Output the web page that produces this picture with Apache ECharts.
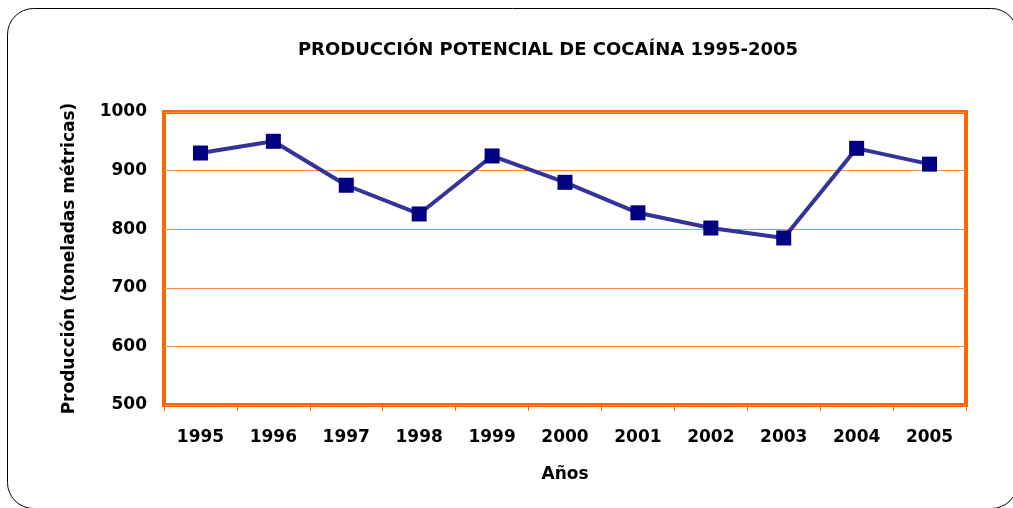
<!DOCTYPE html>
<html><head><meta charset="utf-8">
<script src="https://cdn.jsdelivr.net/npm/echarts@6/dist/echarts.min.js"></script>
<style>html,body{margin:0;padding:0;background:#fff}#c{width:1013px;height:508px}</style>
</head><body><div id="c"></div>
<script>
const years = ['1995','1996','1997','1998','1999','2000','2001','2002','2003','2004','2005'];
const production = [930, 950, 875, 826, 925, 880, 828, 802, 785, 938, 911];
const yTicks = {min: 500, max: 1000, interval: 100};

const chart = echarts.init(document.getElementById('c'));
const F = '"DejaVu Sans", Arial, sans-serif';
chart.setOption({
  animation: false,
  backgroundColor: '#fff',
  graphic: [{
    type: 'rect', silent: true, z: -1,
    shape: {x: 7.5, y: 8.5, width: 1010, height: 500, r: 26},
    style: {fill: 'none', stroke: '#000', lineWidth: 1}
  }],
  title: {
    text: 'PRODUCCIÓN POTENCIAL DE COCAÍNA 1995-2005',
    left: 543, top: 36, textAlign: 'center',
    textStyle: {fontFamily: F, fontSize: 18, fontWeight: 'bold', color: '#000'}
  },
  grid: {left: 164, top: 112, right: 47, bottom: 103, show: true,
    borderColor: '#FF6600', borderWidth: 4, backgroundColor: 'transparent'},
  xAxis: {
    type: 'category', data: years, boundaryGap: true,
    name: 'Años', nameLocation: 'middle', nameGap: 61,
    nameTextStyle: {fontFamily: F, fontSize: 17, fontWeight: 'bold', color: '#000'},
    axisLine: {show: false},
    axisTick: {show: true, length: 6, lineStyle: {color: '#FF6600', width: 1}},
    axisLabel: {fontFamily: F, fontSize: 17, fontWeight: 'bold', color: '#000', margin: 24}
  },
  yAxis: {
    type: 'value', min: yTicks.min, max: yTicks.max, interval: yTicks.interval,
    name: 'Producción (toneladas métricas)', nameLocation: 'middle', nameGap: 86,
    nameTextStyle: {fontFamily: F, fontSize: 17, fontWeight: 'bold', color: '#000'},
    axisLine: {show: false}, axisTick: {show: false},
    splitLine: {show: true, lineStyle: {color: '#FF8C3A', width: 1}},
    axisLabel: {fontFamily: F, fontSize: 17, fontWeight: 'bold', color: '#000', margin: 17,
      formatter: v => String(v)}
  },
  series: [{
    type: 'line', data: production,
    lineStyle: {color: '#333399', width: 4},
    itemStyle: {color: '#000080'},
    symbol: 'rect', symbolSize: 15, showSymbol: true
  }]
});
</script></body></html>
